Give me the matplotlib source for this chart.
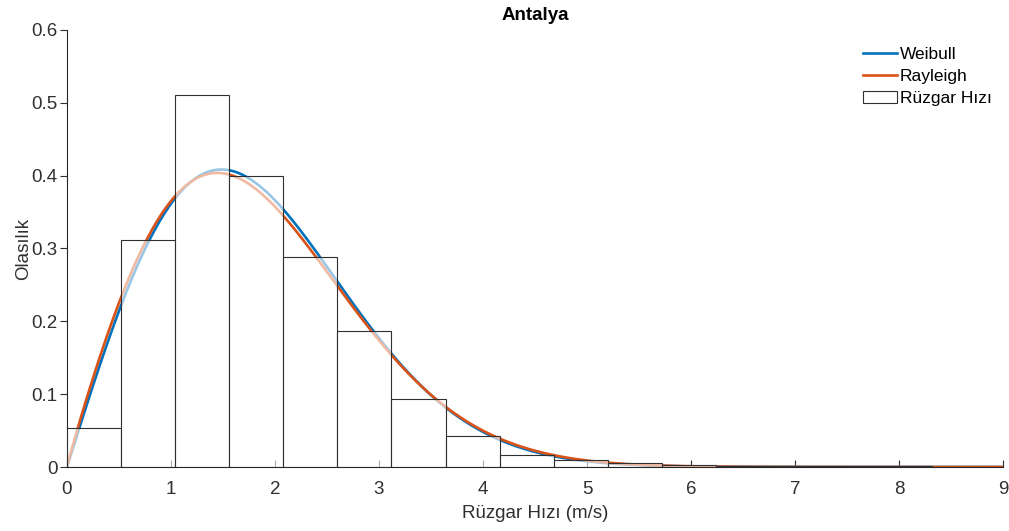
import numpy as np
import matplotlib
matplotlib.use("Agg")
import matplotlib.pyplot as plt

# ---- data ----
bin_width = 0.52
hist_heights = [0.0535, 0.312, 0.511, 0.400, 0.288, 0.187, 0.093, 0.0428,
                0.0168, 0.0095, 0.0055, 0.0025, 0.0015, 0.0010, 0.0018,
                0.0008, 0.0004]
weibull_k, weibull_c = 2.0, 2.10        # fitted Weibull (shape, scale)
rayleigh_k, rayleigh_c = 1.95, 2.09     # curve labelled Rayleigh
x_range = (0, 9)
y_ticks = [0, 0.1, 0.2, 0.3, 0.4, 0.5, 0.6]
y_tick_labels = ['0', '0.1', '0.2', '0.3', '0.4', '0.5', '0.6']
x_ticks = list(range(0, 10))
labels = ["Weibull", "Rayleigh", "Rüzgar Hızı"]

plt.rcParams['font.family'] = ['Liberation Sans', 'DejaVu Sans']

def wpdf(x, k, c):
    return (k / c) * (x / c) ** (k - 1) * np.exp(-(x / c) ** k)

fig = plt.figure(figsize=(10.09, 5.31), dpi=100)
ax = fig.add_axes([67/1009, 1-467/531, (1003-67)/1009, (467-30)/531])

xs = np.linspace(x_range[0], x_range[1], 600)
l1, = ax.plot(xs, wpdf(xs, weibull_k, weibull_c), color='#0072BD', lw=1.9, zorder=2)
l2, = ax.plot(xs, wpdf(xs, rayleigh_k, rayleigh_c), color='#D95319', lw=1.9, zorder=2)

lefts = np.arange(len(hist_heights)) * bin_width
bars = ax.bar(lefts, hist_heights, width=bin_width, align='edge',
              facecolor=(1, 1, 1, 0.6), edgecolor='#303030', linewidth=0.8, zorder=3)

ax.set_xlim(*x_range)
ax.set_ylim(0, 0.6)
ax.set_xticks(x_ticks)
ax.set_yticks(y_ticks)
ax.set_yticklabels(y_tick_labels)
ax.spines['top'].set_visible(False)
ax.spines['right'].set_visible(False)
for s in ['left', 'bottom']:
    ax.spines[s].set_color('#262626')
    ax.spines[s].set_linewidth(0.8)
ax.spines['bottom'].set_zorder(2.6)
ax.tick_params(axis='x', direction='in', length=5, colors='#303030', labelsize=13.5, pad=10)
ax.tick_params(axis='y', direction='out', length=5, colors='#303030', labelsize=13.5, pad=2)

ax.set_xlabel('Rüzgar Hızı (m/s)', fontsize=13.5, color='#303030', labelpad=5)
ax.set_ylabel('Olasılık', fontsize=13.5, color='#303030', labelpad=-0.5)
ax.set_title('Antalya', fontsize=13.5, fontweight='bold', color='#000000', pad=7)

leg = ax.legend([l1, l2, bars[0]], labels, loc='upper left',
                bbox_to_anchor=(0.843, 0.978), frameon=False, fontsize=12.5,
                handlelength=1.95, handletextpad=0.18, labelspacing=0.41,
                borderaxespad=0)
for t in leg.get_texts():
    t.set_color('#000000')

fig.savefig('out.png', dpi=100)
